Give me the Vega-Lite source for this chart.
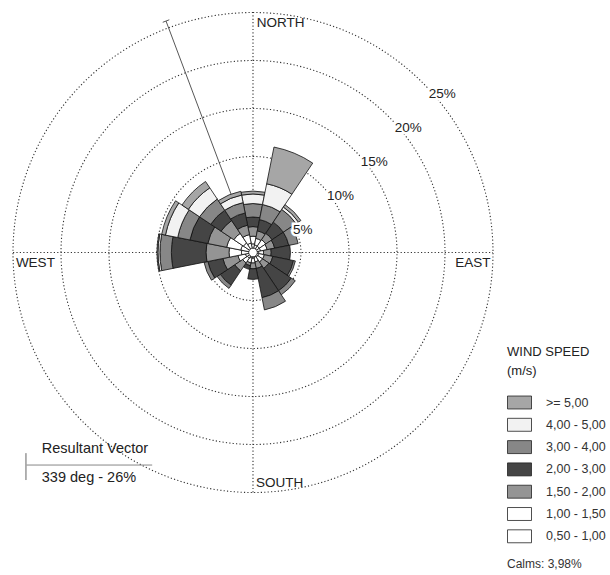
{
  "$schema": "https://vega.github.io/schema/vega-lite/v6.json",
  "width": 610,
  "height": 575,
  "autosize": {"type": "none"},
  "padding": 0,
  "background": "white",
  "config": {"view": {"stroke": null}, "font": "Liberation Sans"},
  "datasets": {
    "rings": [
      {"ring": 5, "label": "5%"},
      {"ring": 10, "label": "10%"},
      {"ring": 15, "label": "15%"},
      {"ring": 20, "label": "20%"},
      {"ring": 25, "label": "25%"}
    ],
    "rose": [
      {"dir": 0, "cls": "0,50 - 1,00", "pct": 0.9}, {"dir": 0, "cls": "1,00 - 1,50", "pct": 0.8}, {"dir": 0, "cls": "1,50 - 2,00", "pct": 1.0}, {"dir": 0, "cls": "2,00 - 3,00", "pct": 1.0}, {"dir": 0, "cls": "3,00 - 4,00", "pct": 1.4}, {"dir": 0, "cls": "4,00 - 5,00", "pct": 1.0}, {"dir": 0, "cls": ">= 5,00", "pct": 0.3},
      {"dir": 22.5, "cls": "0,50 - 1,00", "pct": 0.8}, {"dir": 22.5, "cls": "1,00 - 1,50", "pct": 0.7}, {"dir": 22.5, "cls": "1,50 - 2,00", "pct": 0.8}, {"dir": 22.5, "cls": "2,00 - 3,00", "pct": 1.2}, {"dir": 22.5, "cls": "3,00 - 4,00", "pct": 1.6}, {"dir": 22.5, "cls": "4,00 - 5,00", "pct": 2.2}, {"dir": 22.5, "cls": ">= 5,00", "pct": 3.9},
      {"dir": 45, "cls": "0,50 - 1,00", "pct": 0.8}, {"dir": 45, "cls": "1,00 - 1,50", "pct": 0.8}, {"dir": 45, "cls": "1,50 - 2,00", "pct": 0.8}, {"dir": 45, "cls": "2,00 - 3,00", "pct": 1.4}, {"dir": 45, "cls": "3,00 - 4,00", "pct": 1.6}, {"dir": 45, "cls": "4,00 - 5,00", "pct": 0.3}, {"dir": 45, "cls": ">= 5,00", "pct": 0.3},
      {"dir": 67.5, "cls": "0,50 - 1,00", "pct": 0.8}, {"dir": 67.5, "cls": "1,00 - 1,50", "pct": 0.7}, {"dir": 67.5, "cls": "1,50 - 2,00", "pct": 0.8}, {"dir": 67.5, "cls": "2,00 - 3,00", "pct": 1.5}, {"dir": 67.5, "cls": "3,00 - 4,00", "pct": 1.0},
      {"dir": 90, "cls": "0,50 - 1,00", "pct": 0.6}, {"dir": 90, "cls": "1,00 - 1,50", "pct": 0.5}, {"dir": 90, "cls": "1,50 - 2,00", "pct": 0.8}, {"dir": 90, "cls": "2,00 - 3,00", "pct": 2.0},
      {"dir": 112.5, "cls": "0,50 - 1,00", "pct": 0.6}, {"dir": 112.5, "cls": "1,00 - 1,50", "pct": 0.6}, {"dir": 112.5, "cls": "1,50 - 2,00", "pct": 0.9}, {"dir": 112.5, "cls": "2,00 - 3,00", "pct": 2.2}, {"dir": 112.5, "cls": "3,00 - 4,00", "pct": 0.2},
      {"dir": 135, "cls": "0,50 - 1,00", "pct": 0.6}, {"dir": 135, "cls": "1,00 - 1,50", "pct": 0.6}, {"dir": 135, "cls": "1,50 - 2,00", "pct": 0.8}, {"dir": 135, "cls": "2,00 - 3,00", "pct": 2.8}, {"dir": 135, "cls": "3,00 - 4,00", "pct": 0.5},
      {"dir": 157.5, "cls": "0,50 - 1,00", "pct": 0.5}, {"dir": 157.5, "cls": "1,00 - 1,50", "pct": 0.5}, {"dir": 157.5, "cls": "1,50 - 2,00", "pct": 0.7}, {"dir": 157.5, "cls": "2,00 - 3,00", "pct": 3.1}, {"dir": 157.5, "cls": "3,00 - 4,00", "pct": 1.3},
      {"dir": 180, "cls": "0,50 - 1,00", "pct": 0.6}, {"dir": 180, "cls": "1,00 - 1,50", "pct": 0.5}, {"dir": 180, "cls": "1,50 - 2,00", "pct": 0.6}, {"dir": 180, "cls": "2,00 - 3,00", "pct": 1.1},
      {"dir": 202.5, "cls": "0,50 - 1,00", "pct": 0.6}, {"dir": 202.5, "cls": "1,00 - 1,50", "pct": 0.5}, {"dir": 202.5, "cls": "1,50 - 2,00", "pct": 0.3}, {"dir": 202.5, "cls": "2,00 - 3,00", "pct": 0.4},
      {"dir": 225, "cls": "0,50 - 1,00", "pct": 0.7}, {"dir": 225, "cls": "1,00 - 1,50", "pct": 0.6}, {"dir": 225, "cls": "1,50 - 2,00", "pct": 1.0}, {"dir": 225, "cls": "2,00 - 3,00", "pct": 1.8}, {"dir": 225, "cls": "3,00 - 4,00", "pct": 0.4},
      {"dir": 247.5, "cls": "0,50 - 1,00", "pct": 0.8}, {"dir": 247.5, "cls": "1,00 - 1,50", "pct": 0.8}, {"dir": 247.5, "cls": "1,50 - 2,00", "pct": 1.6}, {"dir": 247.5, "cls": "2,00 - 3,00", "pct": 1.6}, {"dir": 247.5, "cls": "3,00 - 4,00", "pct": 0.4},
      {"dir": 270, "cls": "0,50 - 1,00", "pct": 1.2}, {"dir": 270, "cls": "1,00 - 1,50", "pct": 1.3}, {"dir": 270, "cls": "1,50 - 2,00", "pct": 2.4}, {"dir": 270, "cls": "2,00 - 3,00", "pct": 3.6}, {"dir": 270, "cls": "3,00 - 4,00", "pct": 1.2}, {"dir": 270, "cls": "4,00 - 5,00", "pct": 0.2}, {"dir": 270, "cls": ">= 5,00", "pct": 0.1},
      {"dir": 292.5, "cls": "0,50 - 1,00", "pct": 1.3}, {"dir": 292.5, "cls": "1,00 - 1,50", "pct": 1.5}, {"dir": 292.5, "cls": "1,50 - 2,00", "pct": 2.0}, {"dir": 292.5, "cls": "2,00 - 3,00", "pct": 1.9}, {"dir": 292.5, "cls": "3,00 - 4,00", "pct": 1.3}, {"dir": 292.5, "cls": "4,00 - 5,00", "pct": 1.3}, {"dir": 292.5, "cls": ">= 5,00", "pct": 0.4},
      {"dir": 315, "cls": "0,50 - 1,00", "pct": 1.2}, {"dir": 315, "cls": "1,00 - 1,50", "pct": 1.2}, {"dir": 315, "cls": "1,50 - 2,00", "pct": 1.6}, {"dir": 315, "cls": "2,00 - 3,00", "pct": 1.3}, {"dir": 315, "cls": "3,00 - 4,00", "pct": 1.4}, {"dir": 315, "cls": "4,00 - 5,00", "pct": 1.4}, {"dir": 315, "cls": ">= 5,00", "pct": 0.8},
      {"dir": 337.5, "cls": "0,50 - 1,00", "pct": 1.0}, {"dir": 337.5, "cls": "1,00 - 1,50", "pct": 0.9}, {"dir": 337.5, "cls": "1,50 - 2,00", "pct": 1.0}, {"dir": 337.5, "cls": "2,00 - 3,00", "pct": 1.3}, {"dir": 337.5, "cls": "3,00 - 4,00", "pct": 1.1}, {"dir": 337.5, "cls": "4,00 - 5,00", "pct": 0.8}, {"dir": 337.5, "cls": ">= 5,00", "pct": 0.4}
    ]
  },
  "encoding": {
    "x": {"datum": 0, "type": "quantitative", "scale": {"domain": [-26.354, 37.1875], "nice": false, "zero": false}, "axis": null},
    "y": {"datum": 0, "type": "quantitative", "scale": {"domain": [-33.594, 26.302], "nice": false, "zero": false}, "axis": null}
  },
  "layer": [
    {
      "data": {"name": "rings"},
      "mark": {"type": "arc", "theta": 0, "theta2": 6.2832, "filled": false, "fill": null, "stroke": "#333", "strokeWidth": 1.1, "strokeDash": [1.2, 2.2]},
      "encoding": {
        "radius": {"field": "ring", "type": "quantitative", "stack": null, "scale": {"type": "linear", "domain": [0, 25], "range": [0, 240], "zero": true}}
      }
    },
    {
      "data": {"values": [{}]},
      "mark": {"type": "rule", "stroke": "#333", "strokeWidth": 1.1, "strokeDash": [1.2, 2.2]},
      "encoding": {"x": {"datum": -25, "type": "quantitative"}, "x2": {"datum": 25}}
    },
    {
      "data": {"values": [{}]},
      "mark": {"type": "rule", "stroke": "#333", "strokeWidth": 1.1, "strokeDash": [1.2, 2.2]},
      "encoding": {"y": {"datum": -25, "type": "quantitative"}, "y2": {"datum": 25}}
    },
    {
      "data": {"values": [{"deg": 339, "pct": 26}]},
      "mark": {"type": "rule", "stroke": "#444", "strokeWidth": 0.9},
      "encoding": {"x2": {"datum": -9.06}, "y2": {"datum": 24.11}}
    },
    {
      "data": {"values": [{}]},
      "mark": {"type": "rule", "stroke": "#444", "strokeWidth": 0.9},
      "encoding": {"x": {"datum": -9.4, "type": "quantitative"}, "y": {"datum": 23.98, "type": "quantitative"}, "x2": {"datum": -8.72}, "y2": {"datum": 24.24}}
    },
    {
      "data": {"name": "rose"},
      "transform": [
        {"stack": "pct", "groupby": ["dir"], "sort": [{"field": "cls", "order": "ascending"}], "as": ["r0", "r1"]}
      ],
      "mark": {"type": "arc", "stroke": "#111", "strokeWidth": 0.8},
      "encoding": {
        "theta": {"field": "dir", "type": "ordinal", "scale": {"type": "band", "domain": [0, 22.5, 45, 67.5, 90, 112.5, 135, 157.5, 180, 202.5, 225, 247.5, 270, 292.5, 315, 337.5], "range": [-0.19635, 6.08684], "paddingInner": 0, "paddingOuter": 0}},
        "radius": {"field": "r1", "type": "quantitative", "stack": null},
        "radius2": {"field": "r0"},
        "color": {
          "field": "cls",
          "type": "nominal",
          "scale": {
            "domain": [">= 5,00", "4,00 - 5,00", "3,00 - 4,00", "2,00 - 3,00", "1,50 - 2,00", "1,00 - 1,50", "0,50 - 1,00"],
            "range": ["#a6a6a6", "#f2f2f2", "#878787", "#454545", "#949494", "#ffffff", "#ffffff"]
          },
          "legend": {
            "orient": "none",
            "legendX": 507,
            "legendY": 346,
            "padding": 0,
            "title": ["WIND SPEED", "(m/s)"],
            "titleFont": "Liberation Sans",
            "titleFontWeight": "normal",
            "titleFontSize": 13,
            "titleColor": "#222",
            "titleLineHeight": 19,
            "titlePadding": 12,
            "symbolType": "M-1,-0.54L1,-0.54L1,0.54L-1,0.54Z",
            "symbolSize": 576,
            "symbolStrokeColor": "#222",
            "symbolStrokeWidth": 0.8,
            "symbolOpacity": 1,
            "labelFont": "Liberation Sans",
            "labelFontSize": 12.5,
            "labelColor": "#333",
            "labelOffset": 14,
            "rowPadding": 1.3
          }
        }
      }
    },
    {
      "data": {"values": [{}]},
      "mark": {"type": "arc", "theta": 0, "theta2": 6.2832, "fill": "white", "stroke": "#111", "strokeWidth": 0.8},
      "encoding": {"radius": {"datum": 0.45, "type": "quantitative", "stack": null}}
    },
    {
      "data": {"name": "rings"},
      "mark": {"type": "text", "theta": 0.7854, "align": "left", "baseline": "middle", "dx": 6, "dy": 11, "fontSize": 13.5, "fill": "white", "stroke": "white", "strokeWidth": 5},
      "encoding": {"text": {"field": "label"}, "radius": {"field": "ring", "type": "quantitative", "stack": null}}
    },
    {
      "data": {"name": "rings"},
      "mark": {"type": "text", "theta": 0.7854, "align": "left", "baseline": "middle", "dx": 6, "dy": 11, "fontSize": 13.5, "fill": "#222"},
      "encoding": {"text": {"field": "label"}, "radius": {"field": "ring", "type": "quantitative", "stack": null}}
    },
    {
      "data": {"values": [{"t": "NORTH"}]},
      "mark": {"type": "text", "align": "left", "baseline": "middle", "fontSize": 13.5, "fill": "#222"},
      "encoding": {"text": {"field": "t"}, "x": {"datum": 0.4, "type": "quantitative"}, "y": {"datum": 23.9, "type": "quantitative"}}
    },
    {
      "data": {"values": [{"t": "SOUTH"}]},
      "mark": {"type": "text", "align": "left", "baseline": "middle", "fontSize": 13.5, "fill": "#222"},
      "encoding": {"text": {"field": "t"}, "x": {"datum": 0.3, "type": "quantitative"}, "y": {"datum": -24.0, "type": "quantitative"}}
    },
    {
      "data": {"values": [{"t": "WEST"}]},
      "mark": {"type": "text", "align": "left", "baseline": "middle", "fontSize": 13.5, "fill": "#222"},
      "encoding": {"text": {"field": "t"}, "x": {"datum": -24.7, "type": "quantitative"}, "y": {"datum": -1.05, "type": "quantitative"}}
    },
    {
      "data": {"values": [{"t": "EAST"}]},
      "mark": {"type": "text", "align": "right", "baseline": "middle", "fontSize": 13.5, "fill": "#222"},
      "encoding": {"text": {"field": "t"}, "x": {"datum": 24.75, "type": "quantitative"}, "y": {"datum": -1.05, "type": "quantitative"}}
    },
    {
      "data": {"values": [{}]},
      "mark": {"type": "rule", "stroke": "#555", "strokeWidth": 0.9},
      "encoding": {"x": {"datum": -23.65, "type": "quantitative"}, "y": {"datum": -20.9, "type": "quantitative"}, "y2": {"datum": -23.7}}
    },
    {
      "data": {"values": [{}]},
      "mark": {"type": "rule", "stroke": "#888", "strokeWidth": 1},
      "encoding": {"x": {"datum": -23.6, "type": "quantitative"}, "x2": {"datum": -10.5}, "y": {"datum": -22.14, "type": "quantitative"}}
    },
    {
      "data": {"values": [{"t": "Resultant Vector"}]},
      "mark": {"type": "text", "align": "left", "baseline": "middle", "fontSize": 14.5, "fill": "#222"},
      "encoding": {"text": {"field": "t"}, "x": {"datum": -22.0, "type": "quantitative"}, "y": {"datum": -20.47, "type": "quantitative"}}
    },
    {
      "data": {"values": [{"t": "339 deg - 26%"}]},
      "mark": {"type": "text", "align": "left", "baseline": "middle", "fontSize": 14.5, "fill": "#222"},
      "encoding": {"text": {"field": "t"}, "x": {"datum": -22.0, "type": "quantitative"}, "y": {"datum": -23.49, "type": "quantitative"}}
    },
    {
      "data": {"values": [{"t": "Calms: 3,98%"}]},
      "mark": {"type": "text", "align": "left", "baseline": "middle", "fontSize": 12, "fill": "#333"},
      "encoding": {"text": {"field": "t"}, "x": {"datum": 26.46, "type": "quantitative"}, "y": {"datum": -32.45, "type": "quantitative"}}
    }
  ]
}
